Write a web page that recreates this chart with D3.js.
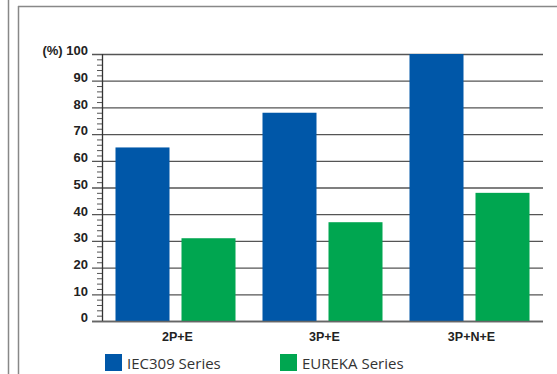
<!DOCTYPE html>
<meta charset="utf-8">
<style>
body { margin: 0; background: #fff; }
.axis text { font-family: "Liberation Sans", Arial, sans-serif; font-weight: bold; font-size: 13px; fill: #222; }
.cat text { font-family: "Liberation Sans", Arial, sans-serif; font-weight: bold; font-size: 12.5px; fill: #222; }
.legend text { font-family: "Open Sans", sans-serif; font-size: 15px; fill: #333; }
</style>
<body>
<svg width="557" height="374"></svg>
<script src="https://d3js.org/d3.v7.min.js"></script>
<script>

var categories = ["2P+E", "3P+E", "3P+N+E"];
var seriesNames = ["IEC309 Series", "EUREKA Series"];
var iec309 = [65, 78, 100];
var eureka = [31, 37, 48];
var colors = ["#0057a8", "#00a650"];
var yTicks = [0, 10, 20, 30, 40, 50, 60, 70, 80, 90, 100];

var svg = d3.select("svg");

// frame lines
svg.append("line").attr("x1", 8.5).attr("x2", 8.5).attr("y1", 0).attr("y2", 374)
    .attr("stroke", "#888").attr("stroke-width", 1.5);
svg.append("line").attr("x1", 18.5).attr("x2", 18.5).attr("y1", 6).attr("y2", 374)
    .attr("stroke", "#888").attr("stroke-width", 1.5);
svg.append("line").attr("x1", 18).attr("x2", 557).attr("y1", 6.5).attr("y2", 6.5)
    .attr("stroke", "#888").attr("stroke-width", 1.5);

var y = d3.scaleLinear().domain([0, 100]).range([321, 54]);
var x0 = d3.scaleBand().domain(categories).range([102, 543]).paddingInner(0).paddingOuter(0);
var x1 = d3.scaleBand().domain(seriesNames).range([0, x0.bandwidth()])
    .paddingInner(12 / 66).paddingOuter(0.2045);

// gridlines
svg.append("g").selectAll("line").data(yTicks).enter().append("line")
    .attr("x1", 92).attr("x2", 543)
    .attr("y1", function(d) { return y(d) + 0.5; })
    .attr("y2", function(d) { return y(d) + 0.5; })
    .attr("stroke", "#555").attr("stroke-width", 1.3);

// minor ticks every 2
var minor = d3.range(0, 100, 2).filter(function(d) { return d % 10 != 0; });
svg.append("g").selectAll("line").data(minor).enter().append("line")
    .attr("x1", 97).attr("x2", 102)
    .attr("y1", function(d) { return y(d) + 0.5; })
    .attr("y2", function(d) { return y(d) + 0.5; })
    .attr("stroke", "#555").attr("stroke-width", 1);

// bars
var data = categories.map(function(c, i) {
  return { cat: c, vals: [iec309[i], eureka[i]] };
});
var groups = svg.append("g").selectAll("g").data(data).enter().append("g")
    .attr("transform", function(d) { return "translate(" + x0(d.cat) + ",0)"; });
groups.selectAll("rect").data(function(d) {
    return d.vals.map(function(v, j) { return { s: seriesNames[j], v: v, j: j }; });
  }).enter().append("rect")
    .attr("x", function(d) { return x1(d.s); })
    .attr("width", x1.bandwidth())
    .attr("y", function(d) { return y(d.v); })
    .attr("height", function(d) { return y(0) - y(d.v); })
    .attr("fill", function(d) { return colors[d.j]; });

// y axis line
svg.append("line").attr("x1", 102.5).attr("x2", 102.5).attr("y1", 54).attr("y2", 321)
    .attr("stroke", "#333").attr("stroke-width", 1.3);
// baseline
svg.append("line").attr("x1", 92).attr("x2", 543).attr("y1", 321.5).attr("y2", 321.5)
    .attr("stroke", "#666").attr("stroke-width", 1.5);

// y labels
var ax = svg.append("g").attr("class", "axis");
ax.selectAll("text").data(yTicks).enter().append("text")
    .attr("x", 88).attr("y", function(d) { return y(d); })
    .attr("dy", "0.1em")
    .attr("text-anchor", "end")
    .text(function(d) { return d == 100 ? "(%) 100" : d; });

// category labels
var cat = svg.append("g").attr("class", "cat");
cat.selectAll("text").data(categories).enter().append("text")
    .attr("x", function(d) { return x0(d) + x0.bandwidth() / 2 + 2; })
    .attr("y", 341)
    .attr("text-anchor", "middle")
    .text(function(d) { return d; });

// legend
var legX = [105, 280];
var leg = svg.append("g").attr("class", "legend");
seriesNames.forEach(function(s, i) {
  leg.append("rect").attr("x", legX[i]).attr("y", 354).attr("width", 17).attr("height", 17)
      .attr("fill", colors[i]);
  leg.append("text").attr("x", legX[i] + 22).attr("y", 368.5).text(s);
});

</script>
</body>
